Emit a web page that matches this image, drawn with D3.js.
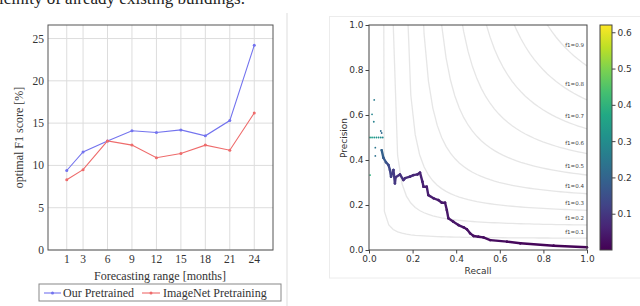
<!DOCTYPE html>
<html>
<head>
<meta charset="utf-8">
<script src="https://cdn.jsdelivr.net/npm/d3@7"></script>
<style>
  body { margin: 0; background: #fff; }
  svg { display: block; }
</style>
</head>
<body>
<svg width="640" height="306"></svg>
<script>
/* Left: F1 over forecasting range. Right: precision/recall with iso-F1 lines. */

const months = [1, 3, 6, 9, 12, 15, 18, 21, 24];
const ourPretrained = [9.4, 11.6, 12.9, 14.1, 13.9, 14.2, 13.5, 15.3, 24.2];
const imagenetPretraining = [8.3, 9.5, 12.9, 12.4, 10.9, 11.4, 12.4, 11.8, 16.2];
const f1Ticks = [0, 5, 10, 15, 20, 25];

const f1Levels = [0.1, 0.2, 0.3, 0.4, 0.5, 0.6, 0.7, 0.8, 0.9];
const prTicks = [0, 0.2, 0.4, 0.6, 0.8, 1.0];
const cbarTicks = [0.1, 0.2, 0.3, 0.4, 0.5, 0.6];

// main precision/recall curve (threshold drives the colour)
const curveRecall = [0.058, 0.066, 0.078, 0.089, 0.096, 0.101, 0.112, 0.119, 0.122, 0.142, 0.158, 0.165, 0.188, 0.204, 0.222, 0.234, 0.245, 0.25, 0.265, 0.272, 0.296, 0.318, 0.334, 0.349, 0.357, 0.364, 0.387, 0.41, 0.434, 0.449, 0.464, 0.48, 0.502, 0.525, 0.556, 0.633, 0.694, 0.847, 1.0];
const curvePrecision = [0.444, 0.41, 0.39, 0.378, 0.356, 0.326, 0.356, 0.296, 0.323, 0.336, 0.311, 0.319, 0.326, 0.333, 0.336, 0.344, 0.304, 0.281, 0.281, 0.244, 0.23, 0.222, 0.21, 0.21, 0.178, 0.141, 0.126, 0.111, 0.101, 0.092, 0.074, 0.062, 0.059, 0.056, 0.044, 0.037, 0.030, 0.019, 0.012];
const curveThreshold = [0.2, 0.18, 0.16, 0.14, 0.13, 0.12, 0.11, 0.1, 0.095, 0.09, 0.085, 0.08, 0.075, 0.07, 0.065, 0.06, 0.058, 0.055, 0.052, 0.05, 0.047, 0.045, 0.043, 0.041, 0.039, 0.037, 0.035, 0.033, 0.031, 0.029, 0.027, 0.025, 0.023, 0.021, 0.019, 0.016, 0.013, 0.008, 0.003];

// loose points at high thresholds
const looseRecall = [0.024, 0.014, 0.022, 0.005, 0.014, 0.024, 0.034, 0.044, 0.054, 0.063, 0.005, 0.029, 0.029, 0.054, 0.058];
const loosePrecision = [0.667, 0.603, 0.57, 0.5, 0.5, 0.5, 0.5, 0.5, 0.5, 0.5, 0.333, 0.455, 0.418, 0.529, 0.52];
const looseThreshold = [0.26, 0.28, 0.27, 0.36, 0.34, 0.33, 0.32, 0.31, 0.30, 0.29, 0.40, 0.24, 0.23, 0.22, 0.21];

const svg = d3.select('svg');
const serif = '"Liberation Serif", "DejaVu Serif", serif';
const sans = '"DejaVu Sans", sans-serif';

// text of the page above, cut off by the crop
svg.append('text')
    .attr('x', 245).attr('y', 4)
    .attr('text-anchor', 'end')
    .attr('font-family', serif).attr('font-size', 17)
    .attr('fill', '#222')
    .text('vicinity of already existing buildings.');

// divider between the two figures
svg.append('line')
    .attr('x1', 287).attr('x2', 287).attr('y1', 13).attr('y2', 306)
    .attr('stroke', '#ddd');

/* ---------- left chart ---------- */
function drawLeft() {
    const x = d3.scaleLinear().domain([-1.3, 26.3]).range([48, 273]);
    const y = d3.scaleLinear().domain([0, 26.6]).range([250, 25]);
    const g = svg.append('g');

    g.append('g').selectAll('line.v')
        .data(months).join('line')
        .attr('x1', d => x(d)).attr('x2', d => x(d))
        .attr('y1', y.range()[0]).attr('y2', y.range()[1])
        .attr('stroke', '#ddd');
    g.append('g').selectAll('line.h')
        .data(f1Ticks).join('line')
        .attr('x1', x.range()[0]).attr('x2', x.range()[1])
        .attr('y1', d => y(d)).attr('y2', d => y(d))
        .attr('stroke', '#ddd');

    g.append('rect')
        .attr('x', 48).attr('y', 25).attr('width', 225).attr('height', 225)
        .attr('fill', 'none').attr('stroke', '#555').attr('stroke-width', 1);

    g.append('g').selectAll('text')
        .data(f1Ticks).join('text')
        .attr('x', 44).attr('y', d => y(d) + 4)
        .attr('text-anchor', 'end')
        .attr('font-family', serif).attr('font-size', 11.5).attr('fill', '#333')
        .text(d => d);
    g.append('g').selectAll('text')
        .data(months).join('text')
        .attr('x', d => x(d)).attr('y', 263)
        .attr('text-anchor', 'middle')
        .attr('font-family', serif).attr('font-size', 11.5).attr('fill', '#333')
        .text(d => d);

    g.append('text')
        .attr('x', 160).attr('y', 280)
        .attr('text-anchor', 'middle')
        .attr('font-family', serif).attr('font-size', 12).attr('fill', '#333')
        .text('Forecasting range [months]');
    g.append('text')
        .attr('transform', 'translate(23,137.5) rotate(-90)')
        .attr('text-anchor', 'middle')
        .attr('font-family', serif).attr('font-size', 12).attr('fill', '#333')
        .text('optimal F1 score [%]');

    const series = [
        {name: 'Our Pretrained', values: ourPretrained, color: '#7373ee'},
        {name: 'ImageNet Pretraining', values: imagenetPretraining, color: '#ee6b6b'}
    ];
    const line = d3.line().x((d, i) => x(months[i])).y(d => y(d));
    for (const s of series) {
        g.append('path')
            .attr('d', line(s.values))
            .attr('fill', 'none').attr('stroke', s.color).attr('stroke-width', 1.1);
        g.append('g').selectAll('circle')
            .data(s.values).join('circle')
            .attr('cx', (d, i) => x(months[i])).attr('cy', d => y(d))
            .attr('r', 1.5).attr('fill', s.color);
    }

    // legend
    const lg = g.append('g');
    lg.append('rect')
        .attr('x', 39).attr('y', 284).attr('width', 242).attr('height', 17)
        .attr('fill', '#fff').attr('stroke', '#888');
    const items = [[44, 61, 63], [142, 160, 163]];
    series.forEach((s, i) => {
        const [a, b, t] = items[i];
        lg.append('line')
            .attr('x1', a).attr('x2', b).attr('y1', 293).attr('y2', 293)
            .attr('stroke', s.color).attr('stroke-width', 1.1);
        lg.append('circle')
            .attr('cx', (a + b) / 2).attr('cy', 293).attr('r', 1.5).attr('fill', s.color);
        lg.append('text')
            .attr('x', t).attr('y', 297)
            .attr('font-family', serif).attr('font-size', 12).attr('fill', '#333')
            .text(s.name);
    });
}

/* ---------- right chart ---------- */
function drawRight() {
    const x = d3.scaleLinear().domain([0, 1]).range([369, 587]);
    const y = d3.scaleLinear().domain([0, 1]).range([250, 25]);
    const color = d3.scaleSequential(d3.interpolateViridis).domain([0, 0.62]);
    const g = svg.append('g');

    // faint frame round the figure
    g.append('rect')
        .attr('x', 329.5).attr('y', 16.5).attr('width', 320).attr('height', 261.5)
        .attr('fill', 'none').attr('stroke', '#ececec');

    g.append('clipPath').attr('id', 'prclip')
        .append('rect').attr('x', 369).attr('y', 25).attr('width', 218).attr('height', 225);

    // iso-F1 curves like the sklearn example (x = linspace(0.01, 1, 50))
    const xs = d3.range(50).map(i => 0.01 + i * 0.99 / 49);
    const isoLine = d3.line().x(d => x(d[0])).y(d => y(d[1]));
    const iso = g.append('g').attr('clip-path', 'url(#prclip)');
    for (const f of f1Levels) {
        const pts = xs.map(r => [r, f * r / (2 * r - f)]).filter(d => d[1] >= 0 && 2 * d[0] - f > 0);
        iso.append('path')
            .attr('d', isoLine(pts))
            .attr('fill', 'none').attr('stroke', 'gray').attr('stroke-opacity', 0.2)
            .attr('stroke-width', 1.3);
        const r45 = xs[45];
        g.append('text')
            .attr('x', x(0.9)).attr('y', y(f * r45 / (2 * r45 - f) + 0.02))
            .attr('font-family', sans).attr('font-size', 5.5).attr('fill', '#444')
            .text('f1=' + f.toFixed(1));
    }

    // curve
    const pr = g.append('g');
    for (let i = 1; i < curveRecall.length; i++) {
        pr.append('line')
            .attr('x1', x(curveRecall[i - 1])).attr('y1', y(curvePrecision[i - 1]))
            .attr('x2', x(curveRecall[i])).attr('y2', y(curvePrecision[i]))
            .attr('stroke', color((curveThreshold[i - 1] + curveThreshold[i]) / 2))
            .attr('stroke-width', 2.4).attr('stroke-linecap', 'round');
    }
    pr.selectAll('circle.c')
        .data(curveRecall).join('circle')
        .attr('cx', d => x(d)).attr('cy', (d, i) => y(curvePrecision[i]))
        .attr('r', 1.2).attr('fill', (d, i) => color(curveThreshold[i]));
    pr.selectAll('circle.l')
        .data(looseRecall).enter().append('circle')
        .attr('cx', d => x(d)).attr('cy', (d, i) => y(loosePrecision[i]))
        .attr('r', 0.9).attr('fill', (d, i) => color(looseThreshold[i]));

    // axes
    const ax = g.append('g').attr('transform', 'translate(0,250)')
        .call(d3.axisBottom(x).tickValues(prTicks).tickFormat(d3.format('.1f')).tickSize(3.5).tickPadding(2));
    const ay = g.append('g').attr('transform', 'translate(369,0)')
        .call(d3.axisLeft(y).tickValues(prTicks).tickFormat(d3.format('.1f')).tickSize(3.5).tickPadding(2));
    for (const a of [ax, ay]) {
        a.select('.domain').remove();
        a.selectAll('line').attr('stroke', '#444');
        a.selectAll('text').attr('font-family', sans).attr('font-size', 9).attr('fill', '#333');
    }
    g.append('rect')
        .attr('x', 369).attr('y', 25).attr('width', 218).attr('height', 225)
        .attr('fill', 'none').attr('stroke', '#444').attr('stroke-width', 1);

    g.append('text')
        .attr('x', 478).attr('y', 274)
        .attr('text-anchor', 'middle')
        .attr('font-family', sans).attr('font-size', 9).attr('fill', '#333')
        .text('Recall');
    g.append('text')
        .attr('transform', 'translate(347,138) rotate(-90)')
        .attr('text-anchor', 'middle')
        .attr('font-family', sans).attr('font-size', 9).attr('fill', '#333')
        .text('Precision');

    // colorbar
    const cy = d3.scaleLinear().domain(color.domain()).range([250, 25]);
    const grad = g.append('defs').append('linearGradient')
        .attr('id', 'cbar').attr('x1', 0).attr('x2', 0).attr('y1', 1).attr('y2', 0);
    d3.range(11).forEach(i => {
        grad.append('stop')
            .attr('offset', i / 10)
            .attr('stop-color', d3.interpolateViridis(i / 10));
    });
    g.append('rect')
        .attr('x', 600).attr('y', 25).attr('width', 12).attr('height', 225)
        .attr('fill', 'url(#cbar)').attr('stroke', '#444');
    const ac = g.append('g').attr('transform', 'translate(612,0)')
        .call(d3.axisRight(cy).tickValues(cbarTicks).tickFormat(d3.format('.1f')).tickSize(3.5).tickPadding(2));
    ac.select('.domain').remove();
    ac.selectAll('line').attr('stroke', '#444');
    ac.selectAll('text').attr('font-family', sans).attr('font-size', 9).attr('fill', '#333');
}

drawLeft();
drawRight();
</script>
</body>
</html>
